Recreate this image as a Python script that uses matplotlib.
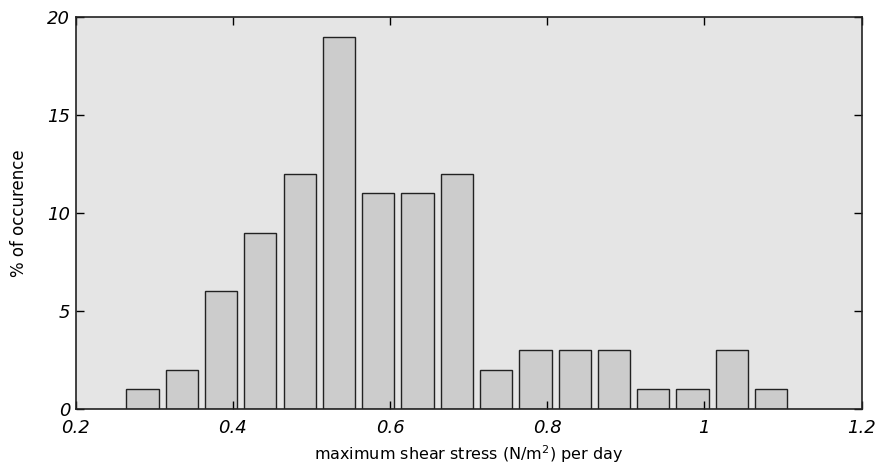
import numpy as np
import matplotlib
matplotlib.use("Agg")
import matplotlib.pyplot as plt

# Datos del histograma
centers = [0.285, 0.335, 0.385, 0.435, 0.485, 0.535, 0.585, 0.635, 0.685,
           0.735, 0.785, 0.835, 0.885, 0.935, 0.985, 1.035, 1.085]
percent = [1, 2, 6, 9, 12, 19, 11, 11, 12, 2, 3, 3, 3, 1, 1, 3, 1]
xticks = [0.2, 0.4, 0.6, 0.8, 1.0, 1.2]
xtick_labels = ["0.2", "0.4", "0.6", "0.8", "1", "1.2"]
yticks = [0, 5, 10, 15, 20]

fig = plt.figure(figsize=(8.8, 4.72), dpi=100)
ax = fig.add_axes([0.086, 0.1335, 0.893, 0.8305])
ax.set_facecolor("#e5e5e5")

ax.bar(centers, percent, width=0.041, color="#cccccc", edgecolor="#222222", linewidth=1.0)

ax.set_xlim(0.2, 1.2)
ax.set_ylim(0, 20)
ax.set_xticks(xticks)
ax.set_xticklabels(xtick_labels, fontsize=13, style="italic")
ax.set_yticks(yticks)
ax.set_yticklabels([str(v) for v in yticks], fontsize=13, style="italic")
ax.tick_params(axis="x", direction="in", length=6, width=1, top=True, pad=7)
ax.tick_params(axis="y", direction="in", length=6, width=1, right=True, pad=4)

for s in ax.spines.values():
    s.set_linewidth(1.2)
    s.set_color("#222222")

ax.set_xlabel("maximum shear stress (N/m$^2$) per day", fontsize=11.5, labelpad=5)
ax.set_ylabel("% of occurence", fontsize=12, labelpad=14)

fig.savefig("out.png", dpi=100)
plt.close()
